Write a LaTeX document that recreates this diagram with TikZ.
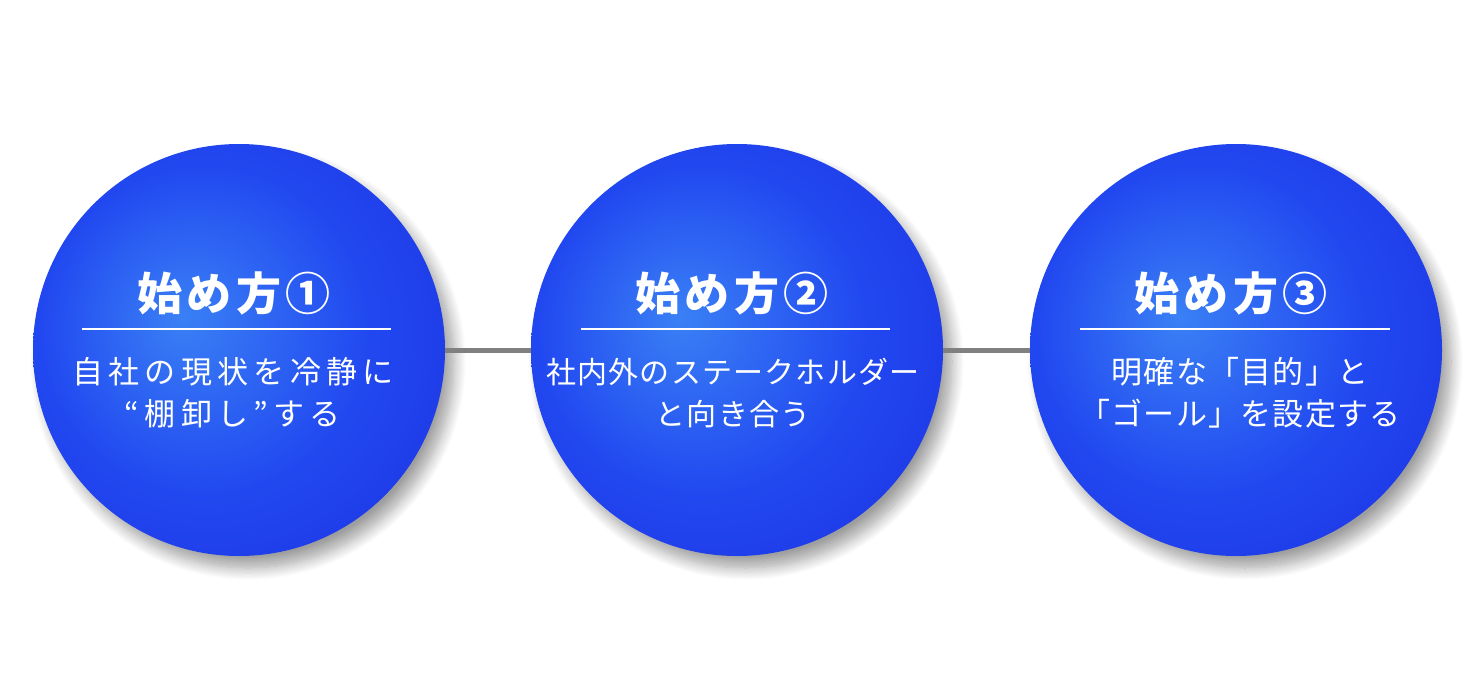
\documentclass[tikz,border=0pt]{standalone}
\usepackage{fontspec}
\setmainfont{Noto Sans CJK JP}
\newfontfamily\wideb[LetterSpace=17]{Noto Sans CJK JP}
\newfontfamily\narrowb[LetterSpace=4]{Noto Sans CJK JP}
\newfontfamily\ttlfont[LetterSpace=10]{Noto Sans CJK JP}
\usetikzlibrary{shadows.blur}

\definecolor{orbin}{HTML}{3A80F5}
\definecolor{orbmid}{HTML}{2148F0}
\definecolor{orbout}{HTML}{1A22D6}
\definecolor{linkgray}{HTML}{808080}
\pgfdeclareradialshading{orb}{\pgfpoint{-7bp}{4bp}}{color(0bp)=(orbin); color(20bp)=(orbmid); color(50bp)=(orbout)}

\begin{document}
\begin{tikzpicture}[x=1pt, y=-1pt,
    orb/.style={circle, minimum size=412pt, inner sep=0pt, shading=orb,
        blur shadow={shadow xshift=9pt, shadow yshift=-12pt, shadow blur radius=12pt, shadow blur steps=14, shadow opacity=38}},
    ttl/.style={anchor=base, text=white, font=\ttlfont\bfseries\fontsize{45}{50}\selectfont},
    body/.style={anchor=base, text=white, align=center},
    rule/.style={draw=white, line width=1.3pt},
    link/.style={draw=linkgray, line width=5pt}]
    \useasboundingbox (0,0) rectangle (1479,700);

    % 円
    \node[orb] (st1) at (239,350) {};
    \node[orb] (st2) at (737,350) {};
    \node[orb] (st3) at (1236,350) {};

    % つなぎ線
    \draw[link] (st1) -- (st2);
    \draw[link] (st2) -- (st3);

    % 見出し
    \node[ttl] (h1) at (234,310) {始め方①};
    \node[ttl] (h2) at (732,310) {始め方②};
    \node[ttl] (h3) at (1231,310) {始め方③};
    \draw[rule] (82,329) -- (391,329);
    \draw[rule] (581,329) -- (890,329);
    \draw[rule] (1080,329) -- (1390,329);

    % 本文
    \node[body, font=\wideb\fontsize{31}{42}\selectfont] (b1) at (233,425) {自社の現状を冷静に\\“棚卸し”する};
    \node[body, font=\narrowb\fontsize{30}{42}\selectfont] (b2) at (733,425) {社内外のステークホルダー\\と向き合う};
    \node[body, font=\narrowb\fontsize{31}{42}\selectfont] (b3) at (1240,425) {明確な「目的」と\\「ゴール」を設定する};
\end{tikzpicture}
\end{document}
